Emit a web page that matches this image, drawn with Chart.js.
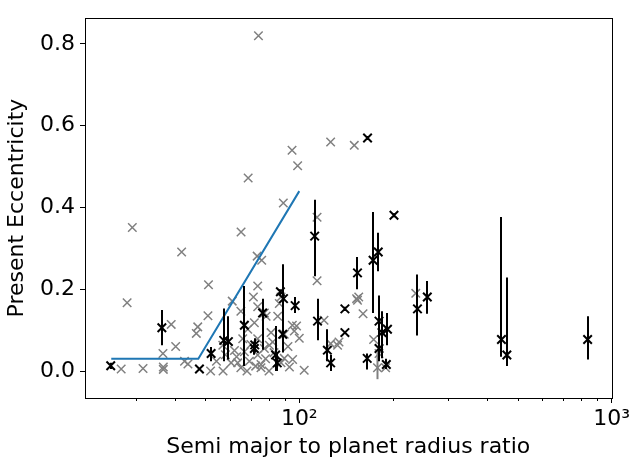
<!DOCTYPE html>
<html>
<head>
<meta charset="utf-8">
<script src="https://cdn.jsdelivr.net/npm/chart.js@4"></script>
<style>
  body { margin: 0; background: #fff; }
  canvas { display: block; }
</style>
</head>
<body>
<canvas id="chart" width="633" height="464"></canvas>
<script>
// gray points: semi major / planet radius vs eccentricity
const grayX = [74, 94.8, 126, 150, 98.8, 68.6, 88.9, 29.2, 28.1, 42, 65.1, 114, 114, 73.3, 75.8,
  51.2, 51, 61, 73.6, 71.3, 38.9, 40.2, 36.6, 47.3, 46.8, 26.9, 31.6, 36.7, 36.7, 42.9, 44,
  56.9, 54.3, 60.5, 63.5, 69.2, 75.4, 103.7, 95.2, 100, 95, 120, 126, 132.6, 153.6, 68.4,
  71.8, 78.3, 81.2, 82.2, 77.3, 73.6, 65.9, 66.7, 73.6, 80.2, 89.5, 96.4, 98, 85.3, 86.3,
  87.4, 65, 73.6, 77.3, 75.4, 87.4, 89.5, 72.5, 65, 63, 152.6, 155, 160, 134, 173, 180, 189,
  236, 58, 62, 70, 78, 83, 92, 93, 68, 80, 57, 52];
const grayY = [0.82, 0.54, 0.56, 0.552, 0.502, 0.472, 0.411, 0.351, 0.167, 0.291, 0.34, 0.376, 0.221, 0.281, 0.271,
  0.211, 0.135, 0.171, 0.208, 0.181, 0.114, 0.06, 0.043, 0.108, 0.092, 0.005, 0.006, 0.01, 0.004, 0.024, 0.017,
  0.063, 0.024, 0.02, 0.02, 0.024, 0.008, 0.002, 0.028, 0.08, 0.112, 0.124, 0.067, 0.063, 0.173, 0.102,
  0.118, 0.134, 0.094, 0.071, 0.055, 0.079, 0.079, 0.047, 0.039, 0.063, 0.09, 0.098, 0.11, 0.134, 0.165,
  0.181, 0.146, 0.157, 0.142, 0.016, 0.02, 0.031, 0.012, 0.008, 0.035, 0.177, 0.181, 0.14, 0.071, 0.077, 0.043, 0.008,
  0.19, 0.04, 0.05, 0.065, 0.03, 0.045, 0.06, 0.01, 0.0, 0.0, 0.0, 0.0];

// gray point with error bar
const grayErrX = [178];
const grayErrY = [0.008];
const grayErrLo = [-0.02];
const grayErrHi = [0.045];

// black points with error bars (lo/hi = null means no bar)
const blackX = [24.9, 36.3, 47.9, 52.2, 57.3, 59.3, 66.7, 71.8, 76.3, 72, 87, 89, 97, 112, 114.4,
  123, 126, 140, 140, 153.6, 165.4, 201, 172.3, 179, 165, 180, 184, 191.6, 180, 190, 239, 257,
  444, 462, 838, 84, 88.5, 85];
const blackY = [0.013, 0.106, 0.005, 0.043, 0.075, 0.072, 0.112, 0.055, 0.142, 0.064, 0.194, 0.177, 0.16, 0.33, 0.122,
  0.051, 0.02, 0.152, 0.094, 0.24, 0.57, 0.381, 0.271, 0.291, 0.031, 0.122, 0.094, 0.102, 0.055, 0.016, 0.152, 0.181,
  0.077, 0.039, 0.077, 0.039, 0.09, 0.02];
const blackLo = [0.005, 0.063, null, 0.024, 0.024, 0.028, 0.012, 0.04, 0.052, 0.045, 0.185, 0.086, 0.142, 0.232, 0.075,
  0.024, 0.0, 0.147, null, 0.2, 0.565, 0.376, 0.142, 0.244, 0.004, 0.024, 0.031, 0.063, null, 0.005, 0.087, 0.14,
  0.035, 0.012, 0.028, 0.0, 0.045, 0.0];
const blackHi = [0.02, 0.149, null, 0.059, 0.153, 0.134, 0.208, 0.071, 0.177, 0.08, 0.2, 0.261, 0.181, 0.419, 0.177,
  0.102, 0.039, 0.157, null, 0.279, 0.575, 0.386, 0.389, 0.338, 0.043, 0.185, 0.146, 0.142, null, 0.03, 0.236, 0.22,
  0.377, 0.229, 0.134, 0.11, 0.13, 0.045];

// blue boundary line
const lineX = [25, 47.5, 100];
const lineY = [0.03, 0.03, 0.44];

const yTicks = [0, 0.2, 0.4, 0.6, 0.8];
const xTicks = [100, 1000];
const xTickLabels = {100: '10²', 1000: '10³'};
const xMinor = [30, 40, 50, 60, 70, 80, 90, 200, 300, 400, 500, 600, 700, 800, 900];

const toPts = (xs, ys) => xs.map((x, i) => ({x: x, y: ys[i]}));

const extras = {
  id: 'extras',
  afterDatasetsDraw(chart) {
    const {ctx, chartArea: a, scales: {x, y}} = chart;
    ctx.save();
    ctx.lineCap = 'butt';
    // error bars
    ctx.strokeStyle = 'gray';
    ctx.lineWidth = 2;
    grayErrX.forEach((v, i) => {
      const px = x.getPixelForValue(v);
      ctx.beginPath();
      ctx.moveTo(px, y.getPixelForValue(grayErrLo[i]));
      ctx.lineTo(px, y.getPixelForValue(grayErrHi[i]));
      ctx.stroke();
    });
    ctx.strokeStyle = '#000';
    blackX.forEach((v, i) => {
      if (blackLo[i] === null) return;
      const px = Math.round(x.getPixelForValue(v)) ;
      ctx.beginPath();
      ctx.moveTo(px, y.getPixelForValue(blackLo[i]));
      ctx.lineTo(px, y.getPixelForValue(blackHi[i]));
      ctx.stroke();
    });
    // frame
    ctx.lineWidth = 1;
    ctx.strokeStyle = '#000';
    ctx.strokeRect(Math.round(a.left) + 0.5, Math.round(a.top) + 0.5,
      Math.round(a.right - a.left), Math.round(a.bottom - a.top));
    // minor x ticks
    xMinor.forEach(v => {
      const px = Math.round(x.getPixelForValue(v)) + 0.5;
      ctx.beginPath();
      ctx.moveTo(px, a.bottom);
      ctx.lineTo(px, a.bottom + 3);
      ctx.stroke();
    });
    ctx.restore();
  }
};

const font = {family: 'DejaVu Sans', size: 22};

new Chart(document.getElementById('chart'), {
  type: 'scatter',
  data: {
    datasets: [
      {
        data: toPts(blackX, blackY),
        pointStyle: 'crossRot', pointRadius: 6, pointHoverRadius: 6,
        borderColor: '#000', backgroundColor: '#000', borderWidth: 2
      },
      {
        type: 'line',
        data: toPts(lineX, lineY),
        borderColor: '#1f77b4', borderWidth: 2, pointRadius: 0, fill: false, tension: 0
      },
      {
        data: toPts(grayErrX, grayErrY),
        pointStyle: 'crossRot', pointRadius: 6, pointHoverRadius: 6,
        borderColor: 'gray', borderWidth: 1.5
      },
      {
        data: toPts(grayX, grayY),
        pointStyle: 'crossRot', pointRadius: 6, pointHoverRadius: 6,
        borderColor: 'gray', borderWidth: 1.5
      }
    ]
  },
  options: {
    responsive: false,
    animation: false,
    devicePixelRatio: 1,
    layout: {padding: {top: 4, right: 20, left: 0, bottom: 0}},
    plugins: {legend: {display: false}, tooltip: {enabled: false}},
    scales: {
      x: {
        type: 'logarithmic',
        min: 20.6, max: 1000,
        afterBuildTicks: s => { s.ticks = xTicks.map(v => ({value: v})); },
        afterFit: s => { s.height = 66; },
        ticks: {
          color: '#000', font: font, padding: 3, maxRotation: 0,
          callback: v => xTickLabels[v] || ''
        },
        grid: {display: true, drawOnChartArea: false, tickLength: 5, tickColor: '#000'},
        border: {display: false},
        title: {display: true, text: 'Semi major to planet radius ratio', color: '#000', font: font, padding: {top: 0, bottom: 4}}
      },
      y: {
        min: -0.066, max: 0.863,
        afterBuildTicks: s => { s.ticks = yTicks.map(v => ({value: v})); },
        afterFit: s => { s.width = 85; },
        ticks: {
          color: '#000', font: font, padding: 5,
          callback: v => v.toFixed(1)
        },
        grid: {display: true, drawOnChartArea: false, tickLength: 5, tickColor: '#000'},
        border: {display: false},
        title: {display: true, text: 'Present Eccentricity', color: '#000', font: font, padding: {top: 4, bottom: 4}}
      }
    }
  },
  plugins: [extras]
});
</script>
</body>
</html>
